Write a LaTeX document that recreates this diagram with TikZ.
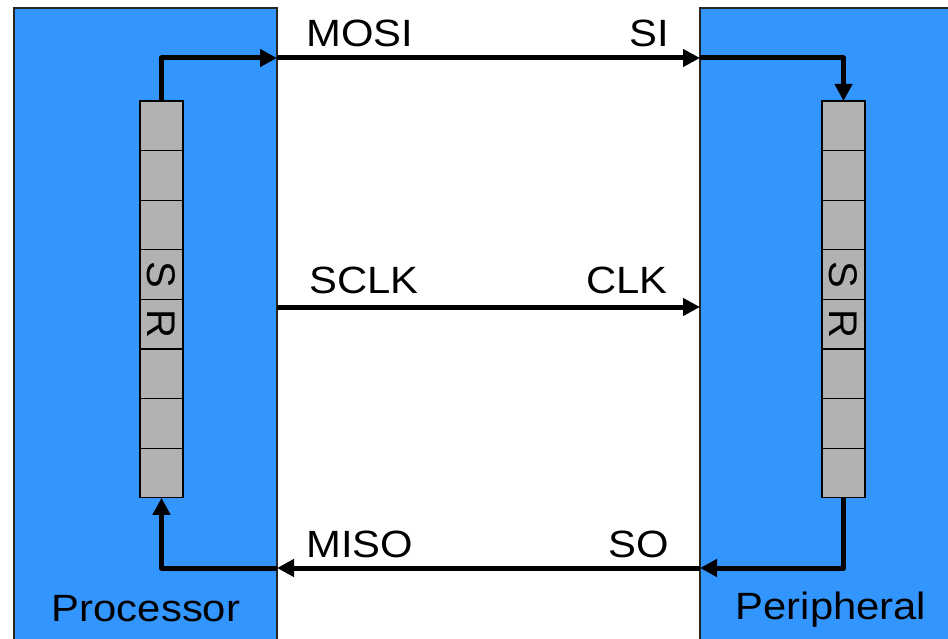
\documentclass[tikz,border=0pt]{standalone}
\usepackage{fontspec}
\setmainfont{Liberation Sans}
\usetikzlibrary{arrows.meta}
\definecolor{chipblue}{RGB}{51,150,255}
\definecolor{reggrey}{RGB}{178,178,178}
\tikzset{
  chip/.style={draw=black!85, line width=1.2pt, fill=chipblue},
  cell/.style={draw=black, line width=1.2pt, fill=reggrey, minimum width=43pt, minimum height=49.6pt, inner sep=0pt, outer sep=0pt},
  sig/.style={line width=5pt, -{Triangle[length=17pt,width=17pt]}, line join=round},
  lbl/.style={font=\fontsize{38}{46}\selectfont, xscale=1.1, inner sep=0pt},
  reglbl/.style={font=\fontsize{40}{46}\selectfont, rotate=-90, inner sep=0pt}
}
\begin{document}
\begin{tikzpicture}[x=1pt, y=-1pt]
\useasboundingbox (0,0) rectangle (948,639);
\clip (0,0) rectangle (948,639);
\fill[white] (0,0) rectangle (948,639);

% the two chips
\draw[chip] (14,8) rectangle (277,660);
\draw[chip] (700,8) rectangle (960,660);

% shift registers, eight cells each
\foreach \side/\x in {L/161.5, R/843.5} {
  \foreach \i in {1,...,8} {
    \node[cell] (\side\i) at (\x, {101 + 49.6*(\i-0.5)}) {};
  }
  \node[reglbl] at (\side4) {S};
  \node[reglbl] at (\side5) {R};
}

% MOSI -> SI
\coordinate (mosiOut) at (277,58);
\coordinate (siIn) at (700,58);
\draw[sig] (L1.north) |- (mosiOut);
\draw[sig] (mosiOut) -- (siIn);
\draw[sig] (siIn) -| (R1.north);

% SCLK -> CLK
\coordinate (sclkOut) at (277,307);
\coordinate (clkIn) at (700,307);
\draw[sig] (sclkOut) -- (clkIn);

% SO -> MISO
\coordinate (soOut) at (700,568);
\coordinate (misoIn) at (277,568);
\draw[sig] (R8.south) |- (soOut);
\draw[sig] (soOut) -- (misoIn);
\draw[sig] (misoIn) -| (L8.south);

% signal names
\node[lbl, anchor=base west] (tMOSI) at (306,47) {MOSI};
\node[lbl, anchor=base east] (tSI) at (669,47) {SI};
\node[lbl, anchor=base west] (tSCLK) at (309,293) {SCLK};
\node[lbl, anchor=base east] (tCLK) at (668,293) {CLK};
\node[lbl, anchor=base west] (tMISO) at (306,557) {MISO};
\node[lbl, anchor=base east] (tSO) at (669,557) {SO};

% chip names
\node[lbl, anchor=base] (tProc) at (146,621) {Processor};
\node[lbl, anchor=base] (tPer) at (831,619) {Peripheral};
\end{tikzpicture}
\end{document}
